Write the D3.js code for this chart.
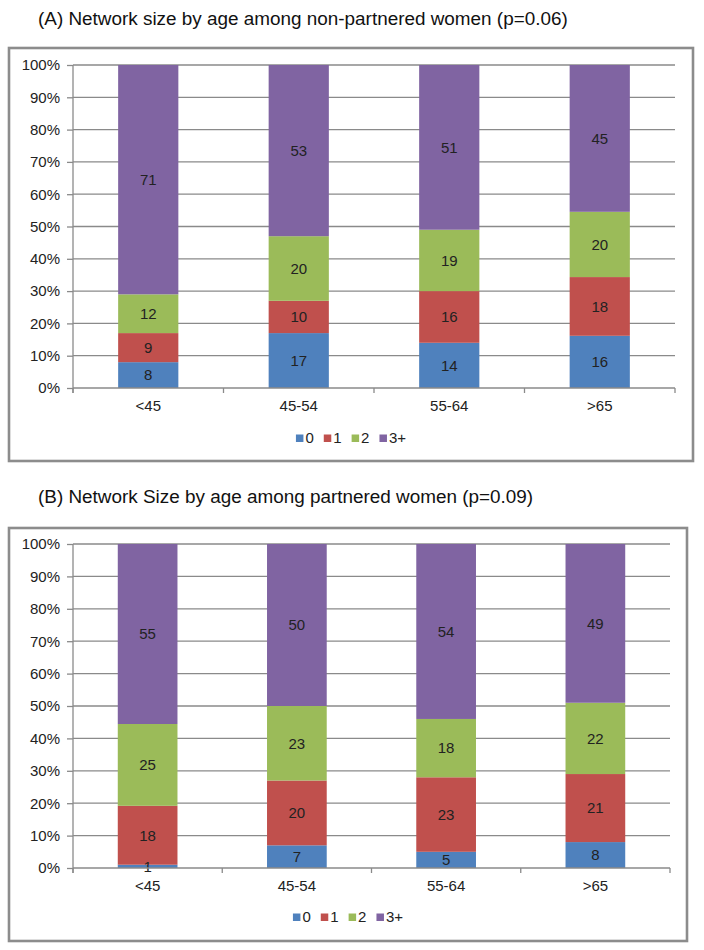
<!DOCTYPE html>
<html>
<head>
<meta charset="utf-8">
<script src="https://cdn.jsdelivr.net/npm/d3@7"></script>
<style>
  html, body { margin: 0; padding: 0; background: #fff; }
  svg { display: block; }
  text { font-family: "Liberation Sans", Arial, sans-serif; }
</style>
</head>
<body>
<svg id="chart" width="704" height="950"></svg>
<script>
// ---- data ----
const categories = ["<45", "45-54", "55-64", ">65"];
const seriesNames = ["0", "1", "2", "3+"];
const seriesColors = ["#4F81BD", "#C0504D", "#9BBB59", "#8064A2"];
const yTickValues = [0, 10, 20, 30, 40, 50, 60, 70, 80, 90, 100];

const titleA = "(A) Network size by age among non-partnered women (p=0.06)";
const a0 = [8, 17, 14, 16];
const a1 = [9, 10, 16, 18];
const a2 = [12, 20, 19, 20];
const a3 = [71, 53, 51, 45];

const titleB = "(B) Network Size by age among partnered women (p=0.09)";
const b0 = [1, 7, 5, 8];
const b1 = [18, 20, 23, 21];
const b2 = [25, 23, 18, 22];
const b3 = [55, 50, 54, 49];

// ---- drawing ----
const svg = d3.select("#chart");
const gridColor = "#8a8a8a";
const txtColor = "#222";
const fs = 15;

function drawPanel(cfg) {
  const g = svg.append("g");
  const { title, values, box, plot, titleY, labelY, legendY } = cfg;

  g.append("text").attr("x", 38).attr("y", titleY)
    .attr("font-size", 18.9).attr("fill", "#111").text(title);

  g.append("rect").attr("x", box.x).attr("y", box.y)
    .attr("width", box.w).attr("height", box.h)
    .attr("fill", "#fff").attr("stroke", "#8c8c8c").attr("stroke-width", 2.6);

  const x = d3.scaleBand().domain(categories)
    .range([plot.left, plot.right]).paddingInner(0.6).paddingOuter(0.3);
  const y = d3.scaleLinear().domain([0, 100]).range([plot.bottom, plot.top]);

  // gridlines
  g.append("g").selectAll("line").data(yTickValues.filter(d => d > 0)).join("line")
    .attr("x1", plot.left).attr("x2", plot.right)
    .attr("y1", d => y(d)).attr("y2", d => y(d))
    .attr("stroke", gridColor).attr("stroke-width", 1.3);

  // stacked data (100% stacked)
  const rows = categories.map((c, i) => {
    const r = { cat: c };
    seriesNames.forEach((s, k) => r[s] = values[k][i]);
    return r;
  });
  const stack = d3.stack().keys(seriesNames).offset(d3.stackOffsetExpand);
  const stacked = stack(rows);

  const sg = g.append("g").selectAll("g").data(stacked).join("g")
    .attr("fill", (d, i) => seriesColors[i]);
  sg.selectAll("rect").data(d => d).join("rect")
    .attr("x", d => x(d.data.cat))
    .attr("width", x.bandwidth())
    .attr("y", d => y(d[1] * 100))
    .attr("height", d => y(d[0] * 100) - y(d[1] * 100));

  // value labels
  const lg = g.append("g");
  stacked.forEach((layer) => {
    layer.forEach(d => {
      lg.append("text")
        .attr("x", x(d.data.cat) + x.bandwidth() / 2)
        .attr("y", y((d[0] + d[1]) / 2 * 100))
        .attr("dy", "0.35em")
        .attr("text-anchor", "middle")
        .attr("font-size", fs).attr("fill", txtColor)
        .text(d.data[layer.key]);
    });
  });

  // y axis
  const yAxis = d3.axisLeft(y).tickValues(yTickValues)
    .tickFormat(d => d + "%").tickSize(6).tickPadding(7);
  const ya = g.append("g").attr("transform", `translate(${plot.left},0)`).call(yAxis);
  ya.select(".domain").remove();
  ya.selectAll(".tick line").attr("stroke", gridColor).attr("stroke-width", 1.3);
  ya.selectAll(".tick text").attr("font-size", fs).attr("fill", txtColor)
    .attr("font-family", "Liberation Sans, Arial, sans-serif");
  g.append("line").attr("x1", plot.left).attr("x2", plot.left)
    .attr("y1", plot.top).attr("y2", plot.bottom + 5)
    .attr("stroke", gridColor).attr("stroke-width", 1.3);

  // x axis
  const xAxis = d3.axisBottom(x).tickSize(0).tickPadding(0);
  const xa = g.append("g").attr("transform", `translate(0,${plot.bottom})`).call(xAxis);
  xa.select(".domain").attr("stroke", gridColor).attr("stroke-width", 1.3)
    .attr("d", `M${plot.left},0H${plot.right}`);
  xa.selectAll(".tick text").attr("y", labelY - plot.bottom).attr("dy", "0.35em")
    .attr("font-size", fs).attr("fill", txtColor)
    .attr("font-family", "Liberation Sans, Arial, sans-serif");
  // category boundary ticks
  const bounds = categories.map((c, i) => plot.left + i * x.step()).concat([plot.right]);
  g.append("g").selectAll("line").data(bounds).join("line")
    .attr("x1", d => d).attr("x2", d => d)
    .attr("y1", plot.bottom).attr("y2", plot.bottom + 5)
    .attr("stroke", gridColor).attr("stroke-width", 1.3);

  // legend
  const leg = g.append("g");
  let cursor = 0;
  seriesNames.forEach((s, i) => {
    const it = leg.append("g");
    it.append("rect").attr("x", 0).attr("y", -3.5).attr("width", 7.5).attr("height", 7.5)
      .attr("fill", seriesColors[i]);
    const t = it.append("text").attr("x", 9.5).attr("y", 0).attr("dy", "0.35em")
      .attr("font-size", fs).attr("fill", txtColor).text(s);
    const w = 9.5 + t.node().getComputedTextLength();
    it.attr("transform", `translate(${cursor},${legendY})`);
    cursor += w + 10;
  });
  const total = cursor - 10;
  const cx = box.x + box.w / 2;
  leg.attr("transform", `translate(${cx - total / 2},0)`);
}

drawPanel({
  title: titleA, values: [a0, a1, a2, a3],
  box: { x: 9, y: 48, w: 684, h: 413 },
  plot: { left: 73, right: 675, top: 65, bottom: 388 },
  titleY: 25, labelY: 406, legendY: 438
});

drawPanel({
  title: titleB, values: [b0, b1, b2, b3],
  box: { x: 9, y: 528, w: 678, h: 413 },
  plot: { left: 73, right: 670, top: 544, bottom: 868 },
  titleY: 503, labelY: 886, legendY: 917
});
</script>
</body>
</html>
